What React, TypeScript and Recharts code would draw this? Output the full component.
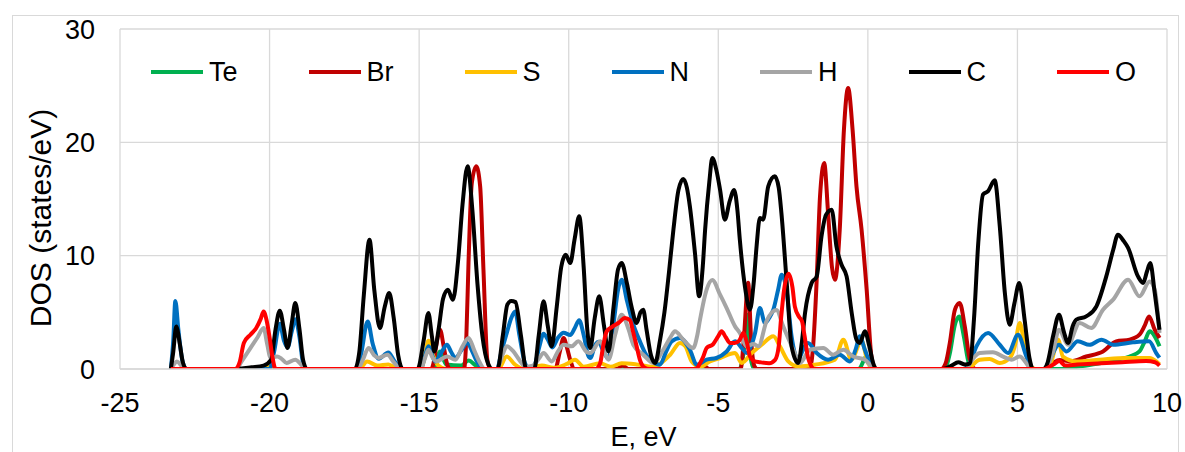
import React from 'react';
import { LineChart, Line, XAxis, YAxis, CartesianGrid, Legend, Label } from 'recharts';

type Pt = [number, number];

const X_TICKS = [-25, -20, -15, -10, -5, 0, 5, 10];
const Y_TICKS = [0, 10, 20, 30];

// Te (E, eV ; DOS)
const TE: Pt[] = [
  [-23.3, 0], [-14.5, 0], [-14.3, 1.55], [-14.1, 0.4], [-13.6, 0.3], [-13.35, 0.75], [-13.1, 0.3], [-12.9, 0],
  [-4.3, 0], [-4.15, 1.5], [-4.05, 4.8], [-3.95, 1.5], [-3.8, 0], [-0.3, 0], [-0.05, 1.1], [0.15, 0],
  [2.55, 0], [2.75, 1.5], [2.9, 3.8], [3.05, 4.64], [3.2, 3.0], [3.38, 0.5], [3.55, 0], [6.5, 0], [7.0, 0.2],
  [7.75, 0.5], [8.3, 0.8], [8.75, 1.1], [9.08, 1.55], [9.25, 2.4], [9.42, 3.32], [9.59, 2.88], [9.75, 2.0],
];

// Br
const BR: Pt[] = [
  [-23.3, 0], [-14.6, 0], [-14.52, 0.5], [-14.42, 2.2], [-14.3, 3.47], [-14.18, 2.0], [-14.05, 0.3], [-13.95, 0],
  [-13.5, 0], [-13.42, 3.0], [-13.35, 9.35], [-13.24, 16.4], [-13.09, 17.88], [-12.96, 16.1], [-12.85, 8.76],
  [-12.72, 0.8], [-12.62, 0], [-10.45, 0], [-10.3, 1.5], [-10.17, 2.74], [-10.05, 1.8], [-9.95, 0.8], [-9.8, 0],
  [-8.4, 0], [-8.2, 0.3], [-8.0, 0], [-5.7, 0], [-5.5, 0.3], [-5.3, 0], [-4.25, 0], [-4.15, 2.5], [-4.0, 7.6],
  [-3.9, 2.5], [-3.8, 0.3], [-3.7, 0], [-1.95, 0], [-1.83, 2.0], [-1.71, 7.88], [-1.6, 15.2], [-1.46, 18.18],
  [-1.33, 13.77], [-1.2, 9.0], [-1.1, 7.88], [-0.94, 12.3], [-0.8, 21.1], [-0.66, 24.8], [-0.51, 21.1],
  [-0.38, 16.1], [-0.21, 12.3], [-0.04, 7.0], [0.12, 1.1], [0.25, 0], [2.45, 0], [2.6, 0.5], [2.74, 2.3],
  [2.91, 5.23], [3.07, 5.82], [3.24, 3.76], [3.41, 0.82], [3.6, 0], [5.9, 0], [6.19, 0.53], [6.41, 0.8],
  [6.75, 0.67], [7.3, 1.1], [7.86, 1.55], [8.3, 2.44], [8.75, 2.59], [9.08, 3.03], [9.25, 3.8], [9.4, 4.64],
  [9.59, 3.47], [9.75, 2.74],
];

// S
const S: Pt[] = [
  [-23.3, 0], [-20.4, 0], [-20.1, 0.3], [-19.9, 0], [-17.0, 0], [-16.74, 0.67], [-16.4, 0.3], [-16.03, 0.4],
  [-15.7, 0], [-14.95, 0], [-14.8, 1.2], [-14.69, 2.5], [-14.52, 1.1], [-14.36, 0.3], [-14.1, 0], [-12.35, 0],
  [-12.07, 1.1], [-11.8, 0.4], [-11.5, 0], [-10.9, 0.3], [-10.5, 0.1], [-10.1, 0.4], [-9.79, 0.82], [-9.5, 0.2],
  [-8.95, 0.5], [-8.6, 0.2], [-8.23, 0.5], [-7.73, 0.4], [-7.2, 0.2], [-6.61, 1.26], [-6.28, 2.3], [-6.1, 2.0],
  [-5.89, 0.67], [-5.61, 0.2], [-5.28, 0.67], [-4.94, 0.97], [-4.44, 1.41], [-4.22, 0.53], [-3.88, 1.41],
  [-3.55, 2.14], [-3.16, 2.88], [-2.94, 2.0], [-2.66, 0.67], [-2.33, 0.23], [-1.77, 0.38], [-1.1, 0.82],
  [-0.82, 2.59], [-0.55, 0.82], [-0.21, 2.5], [0.01, 0.5], [0.3, 0], [3.3, 0], [3.74, 0.82], [4.07, 0.88],
  [4.41, 0.53], [4.75, 1.0], [4.91, 2.0], [5.08, 4.06], [5.24, 2.0], [5.41, 0.3], [5.6, 0], [6.0, 0],
  [6.15, 0.8], [6.36, 2.59], [6.52, 1.1], [6.97, 0.67], [7.75, 0.82], [8.64, 0.97], [9.42, 0.97], [9.64, 0.67],
  [9.75, 0.4],
];

// N
const N: Pt[] = [
  [-23.3, 0], [-23.22, 2.5], [-23.15, 6.0], [-23.05, 3.5], [-22.92, 0.8], [-22.78, 0], [-20.0, 0], [-19.85, 1.5],
  [-19.66, 4.0], [-19.52, 2.5], [-19.4, 1.9], [-19.25, 3.4], [-19.14, 4.4], [-19.0, 2.8], [-18.88, 0.5],
  [-18.75, 0], [-17.1, 0], [-16.95, 1.2], [-16.72, 4.2], [-16.55, 2.2], [-16.35, 0.9], [-16.03, 1.45],
  [-15.85, 0.8], [-15.6, 0], [-14.95, 0], [-14.8, 1.2], [-14.69, 2.0], [-14.46, 0.67], [-14.25, 1.5],
  [-14.07, 2.14], [-13.93, 1.5], [-13.79, 0.97], [-13.6, 1.6], [-13.4, 2.3], [-13.2, 1.4], [-13.07, 0.67],
  [-12.85, 0], [-12.4, 0], [-12.25, 1.5], [-12.07, 3.18], [-11.92, 4.5], [-11.79, 5.08], [-11.65, 3.0],
  [-11.46, 0.5], [-11.3, 0], [-11.12, 0.5], [-10.98, 2.0], [-10.84, 3.1], [-10.7, 2.6], [-10.55, 1.9],
  [-10.35, 2.8], [-10.17, 3.2], [-9.95, 3.0], [-9.8, 3.6], [-9.65, 4.3], [-9.5, 3.0], [-9.35, 1.2],
  [-9.28, 0.97], [-9.1, 2.2], [-9.0, 2.4], [-8.85, 1.6], [-8.67, 0.9], [-8.5, 4.0], [-8.35, 7.0], [-8.23, 7.88],
  [-8.05, 6.0], [-7.89, 4.35], [-7.62, 2.44], [-7.4, 1.2], [-7.28, 0.82], [-6.95, 0.38], [-6.75, 1.5],
  [-6.56, 2.44], [-6.28, 2.74], [-5.95, 1.7], [-5.72, 0.38], [-5.39, 0.82], [-5.06, 0.97], [-4.72, 1.55],
  [-4.44, 2.44], [-4.2, 1.8], [-4.05, 1.41], [-3.88, 2.2], [-3.77, 3.18], [-3.61, 5.38], [-3.44, 4.06],
  [-3.3, 4.5], [-3.16, 5.23], [-3.0, 7.0], [-2.88, 8.32], [-2.72, 7.0], [-2.55, 2.88], [-2.33, 0.82],
  [-2.15, 1.8], [-2.0, 2.3], [-1.71, 1.41], [-1.33, 0.82], [-0.94, 1.26], [-0.6, 0.67], [-0.4, 1.8],
  [-0.27, 2.88], [-0.1, 1.7], [0.1, 0.4], [0.3, 0], [3.2, 0], [3.4, 0.5], [3.63, 2.0], [4.02, 3.18],
  [4.41, 2.14], [4.69, 1.41], [5.02, 3.03], [5.3, 1.1], [5.52, 0], [5.9, 0], [6.08, 0.82], [6.39, 2.14],
  [6.64, 1.55], [7.02, 2.44], [7.41, 2.14], [7.81, 2.59], [8.2, 2.14], [8.86, 2.35], [9.4, 2.44], [9.64, 1.41],
  [9.75, 1.0],
];

// H
const H: Pt[] = [
  [-23.3, 0], [-23.2, 0.4], [-23.1, 0.67], [-22.95, 0.3], [-22.8, 0], [-21.1, 0], [-20.95, 0.6], [-20.64, 1.85],
  [-20.4, 2.8], [-20.2, 3.62], [-20.08, 2.2], [-19.97, 1.0], [-19.75, 1.1], [-19.6, 0.9], [-19.43, 0.53],
  [-19.14, 0.82], [-18.95, 0.4], [-18.8, 0], [-17.05, 0], [-16.9, 0.7], [-16.69, 1.85], [-16.5, 1.2],
  [-16.36, 0.97], [-16.06, 1.26], [-15.85, 0.6], [-15.6, 0], [-14.95, 0], [-14.8, 1.0], [-14.69, 1.7],
  [-14.55, 1.0], [-14.41, 0.67], [-14.07, 1.1], [-13.79, 0.82], [-13.55, 2.0], [-13.35, 2.74], [-13.15, 1.6],
  [-13.02, 0.82], [-12.8, 0], [-12.4, 0], [-12.22, 1.2], [-12.07, 2.0], [-11.85, 1.55], [-11.65, 0.8],
  [-11.45, 0.2], [-11.2, 0.3], [-11.0, 0.9], [-10.84, 1.41], [-10.57, 0.67], [-10.35, 1.6], [-10.17, 2.14],
  [-9.9, 2.0], [-9.68, 2.44], [-9.4, 1.5], [-9.28, 1.41], [-8.95, 2.44], [-8.67, 0.82], [-8.45, 3.0],
  [-8.23, 4.79], [-8.0, 3.5], [-7.84, 2.14], [-7.51, 1.26], [-7.17, 0.53], [-6.84, 1.7], [-6.6, 2.8],
  [-6.45, 3.32], [-6.17, 2.59], [-5.84, 1.85], [-5.7, 3.0], [-5.61, 4.35], [-5.39, 7.0], [-5.2, 7.85],
  [-4.94, 6.56], [-4.72, 5.38], [-4.44, 3.76], [-4.28, 3.18], [-4.05, 2.0], [-3.83, 2.2], [-3.66, 2.0],
  [-3.39, 4.2], [-3.06, 5.2], [-2.83, 3.76], [-2.49, 1.7], [-2.27, 0.53], [-1.94, 1.7], [-1.49, 1.85],
  [-1.16, 1.26], [-0.82, 1.7], [-0.49, 1.1], [-0.1, 0.82], [0.1, 0.3], [0.3, 0], [3.3, 0], [3.41, 0.5],
  [3.74, 1.41], [4.18, 1.47], [4.52, 1.1], [4.8, 0.82], [5.08, 1.1], [5.3, 0.5], [5.45, 0], [5.9, 0],
  [6.19, 1.5], [6.39, 3.47], [6.69, 2.14], [7.08, 4.06], [7.47, 3.62], [7.86, 5.23], [8.2, 6.12], [8.7, 7.88],
  [9.08, 6.41], [9.42, 7.73], [9.59, 7.0], [9.75, 3.18],
];

// C
const C: Pt[] = [
  [-23.3, 0], [-23.22, 1.5], [-23.12, 3.76], [-23.0, 2.2], [-22.9, 0.6], [-22.78, 0], [-21.2, 0], [-20.6, 0.15],
  [-20.2, 0.3], [-19.95, 0.8], [-19.8, 3.5], [-19.66, 5.15], [-19.52, 3.5], [-19.4, 1.85], [-19.26, 4.0],
  [-19.14, 5.82], [-19.0, 3.5], [-18.88, 0.8], [-18.75, 0], [-17.15, 0], [-17.0, 1.5], [-16.85, 6.5],
  [-16.66, 11.41], [-16.5, 7.0], [-16.31, 3.62], [-16.15, 5.5], [-16.0, 6.7], [-15.85, 4.5], [-15.7, 1.2],
  [-15.55, 0], [-15.05, 0], [-14.85, 2.5], [-14.69, 4.94], [-14.58, 3.0], [-14.49, 1.55], [-14.35, 3.5],
  [-14.2, 6.2], [-14.04, 7.0], [-13.87, 6.1], [-13.7, 9.5], [-13.55, 14.5], [-13.38, 17.9], [-13.22, 14.0],
  [-13.05, 7.5], [-12.88, 2.8], [-12.7, 0.5], [-12.55, 0], [-12.38, 0], [-12.2, 3.0], [-12.05, 5.7],
  [-11.92, 6.0], [-11.78, 5.9], [-11.6, 3.0], [-11.42, 0], [-11.15, 0], [-11.0, 3.0], [-10.84, 5.97],
  [-10.7, 3.8], [-10.57, 2.0], [-10.4, 5.5], [-10.25, 9.0], [-10.1, 10.09], [-9.95, 9.35], [-9.8, 11.5],
  [-9.65, 13.47], [-9.5, 9.0], [-9.38, 3.5], [-9.28, 1.85], [-9.13, 4.5], [-8.98, 6.41], [-8.82, 3.8],
  [-8.67, 1.55], [-8.5, 5.5], [-8.35, 8.8], [-8.23, 9.35], [-8.05, 7.5], [-7.9, 5.5], [-7.73, 4.06], [-7.6, 5.0],
  [-7.51, 5.23], [-7.4, 3.5], [-7.25, 1.2], [-7.11, 0.53], [-6.95, 2.5], [-6.8, 5.0], [-6.65, 8.5], [-6.5, 12.3],
  [-6.33, 15.8], [-6.17, 16.77], [-6.05, 16.0], [-5.95, 14.35], [-5.78, 10.24], [-5.64, 6.41], [-5.52, 9.0],
  [-5.44, 12.3], [-5.3, 16.5], [-5.2, 18.62], [-5.06, 17.5], [-4.94, 15.8], [-4.78, 13.18], [-4.62, 14.8],
  [-4.47, 15.8], [-4.36, 14.0], [-4.28, 11.41], [-4.11, 7.29], [-3.94, 5.23], [-3.82, 7.5], [-3.72, 10.82],
  [-3.61, 13.33], [-3.5, 13.18], [-3.33, 16.12], [-3.11, 17.0], [-2.98, 16.0], [-2.89, 13.77], [-2.72, 7.88],
  [-2.55, 2.0], [-2.33, 0.53], [-2.2, 2.5], [-2.1, 4.94], [-1.88, 7.59], [-1.71, 8.17], [-1.55, 11.7],
  [-1.4, 13.6], [-1.21, 14.06], [-1.05, 10.82], [-0.88, 9.2], [-0.71, 8.17], [-0.54, 4.94], [-0.38, 2.59],
  [-0.27, 2.3], [-0.1, 3.32], [0.05, 2.0], [0.18, 0.5], [0.29, 0], [2.5, 0], [2.8, 0.3], [3.02, 0.6],
  [3.25, 0.4], [3.41, 0.5], [3.55, 4.5], [3.69, 11.1], [3.85, 15.4], [4.02, 15.7], [4.24, 16.65], [4.41, 12.6],
  [4.58, 6.7], [4.74, 3.9], [4.9, 5.8], [5.06, 7.59], [5.24, 4.35], [5.4, 1.0], [5.52, 0], [5.86, 0], [6.0, 0.5],
  [6.2, 3.0], [6.39, 4.79], [6.55, 3.3], [6.69, 2.3], [6.85, 3.8], [6.97, 4.35], [7.3, 4.64], [7.64, 5.53],
  [7.97, 8.17], [8.2, 10.5], [8.36, 11.85], [8.55, 11.3], [8.7, 10.68], [9.03, 8.17], [9.2, 7.59], [9.33, 8.6],
  [9.44, 9.35], [9.59, 6.7], [9.75, 3.47],
];

// O
const O: Pt[] = [
  [-23.3, 0], [-21.15, 0], [-21.0, 0.6], [-20.86, 2.3], [-20.64, 3.03], [-20.45, 3.6], [-20.3, 4.4],
  [-20.2, 5.08], [-20.1, 4.3], [-20.0, 2.8], [-19.9, 1.0], [-19.8, 0], [-9.1, 0], [-8.95, 0.5], [-8.85, 2.0],
  [-8.73, 3.32], [-8.56, 3.7], [-8.34, 4.06], [-8.12, 4.5], [-7.95, 4.3], [-7.85, 3.3], [-7.73, 2.0],
  [-7.62, 0.8], [-7.5, 0.2], [-7.3, 0], [-5.75, 0], [-5.61, 0.5], [-5.5, 1.1], [-5.39, 1.85], [-5.17, 2.2],
  [-5.0, 2.9], [-4.89, 3.32], [-4.75, 2.8], [-4.61, 2.3], [-4.45, 2.3], [-4.3, 2.5], [-4.16, 3.18],
  [-4.05, 2.4], [-3.94, 1.1], [-3.8, 0.7], [-3.61, 0.6], [-3.3, 0.5], [-3.1, 0.8], [-2.98, 2.0], [-2.9, 4.5],
  [-2.8, 7.0], [-2.65, 8.4], [-2.52, 7.2], [-2.44, 5.5], [-2.3, 4.6], [-2.2, 4.2], [-2.12, 3.0], [-2.0, 1.0],
  [-1.9, 0.3], [-1.8, 0], [5.9, 0], [6.2, 0.4], [6.4, 0.7], [6.6, 0.3], [7.0, 0.4], [7.8, 0.5], [8.5, 0.6],
  [9.3, 0.7], [9.6, 0.6], [9.75, 0.3],
];

const SERIES = [
  { name: 'Te', color: '#00B050', points: TE },
  { name: 'Br', color: '#C00000', points: BR },
  { name: 'S', color: '#FFC000', points: S },
  { name: 'N', color: '#0070C0', points: N },
  { name: 'H', color: '#A5A5A5', points: H },
  { name: 'C', color: '#000000', points: C },
  { name: 'O', color: '#FF0000', points: O },
];

const toRows = (pts: Pt[]) => pts.map(([x, y]) => ({ x, y }));

const FONT = '"Liberation Sans", Arial, sans-serif';

const LegendContent = () => (
  <div style={{ display: 'flex', justifyContent: 'center', alignItems: 'center', gap: 71, fontFamily: FONT }}>
    {SERIES.map((s) => (
      <div key={s.name} style={{ display: 'flex', alignItems: 'center' }}>
        <div style={{ width: 52, height: 3.5, background: s.color, marginRight: 6 }} />
        <span style={{ fontSize: 27, lineHeight: '30px', color: '#000' }}>{s.name}</span>
      </div>
    ))}
  </div>
);

export default function App() {
  return (
    <div style={{ position: 'absolute', left: 0, top: 0, width: 1185, height: 452, background: '#fff', fontFamily: FONT, overflow: 'hidden' }}>
      <div style={{ position: 'absolute', left: 12, top: 15, width: 1167, height: 460, border: '1px solid #D9D9D9', boxSizing: 'border-box' }} />
      <LineChart width={1185} height={452} margin={{ top: 29, right: 18, left: 0, bottom: 0 }}>
        <CartesianGrid stroke="#D9D9D9" strokeWidth={1.3} />
        <XAxis
          type="number"
          dataKey="x"
          domain={[-25, 10]}
          ticks={X_TICKS}
          interval={0}
          allowDataOverflow
          height={83}
          tickLine={false}
          tickSize={0}
          tickMargin={24}
          axisLine={{ stroke: '#D9D9D9', strokeWidth: 1.3 }}
          tick={{ fontSize: 27, fill: '#000' }}
        >
          <Label value="E, eV" position="insideBottom" offset={6} style={{ fontSize: 27, fill: '#000' }} />
        </XAxis>
        <YAxis
          type="number"
          domain={[0, 30]}
          ticks={Y_TICKS}
          interval={0}
          allowDataOverflow
          width={120}
          tickLine={false}
          axisLine={false}
          tickSize={0}
          tickMargin={25}
          tick={{ fontSize: 27, fill: '#000' }}
        >
          <Label value="DOS (states/eV)" angle={-90} position="center" dx={-20} dy={19} style={{ fontSize: 30, fill: '#000' }} />
        </YAxis>
        <Legend
          verticalAlign="middle"
          align="center"
          layout="horizontal"
          wrapperStyle={{ top: 57, left: 120, width: 1047 }}
          content={() => <LegendContent />}
        />
        {SERIES.map((s) => (
          <Line
            key={s.name}
            name={s.name}
            data={toRows(s.points)}
            dataKey="y"
            type="monotone"
            stroke={s.color}
            strokeWidth={4}
            dot={false}
            activeDot={false}
            isAnimationActive={false}
          />
        ))}
      </LineChart>
    </div>
  );
}
